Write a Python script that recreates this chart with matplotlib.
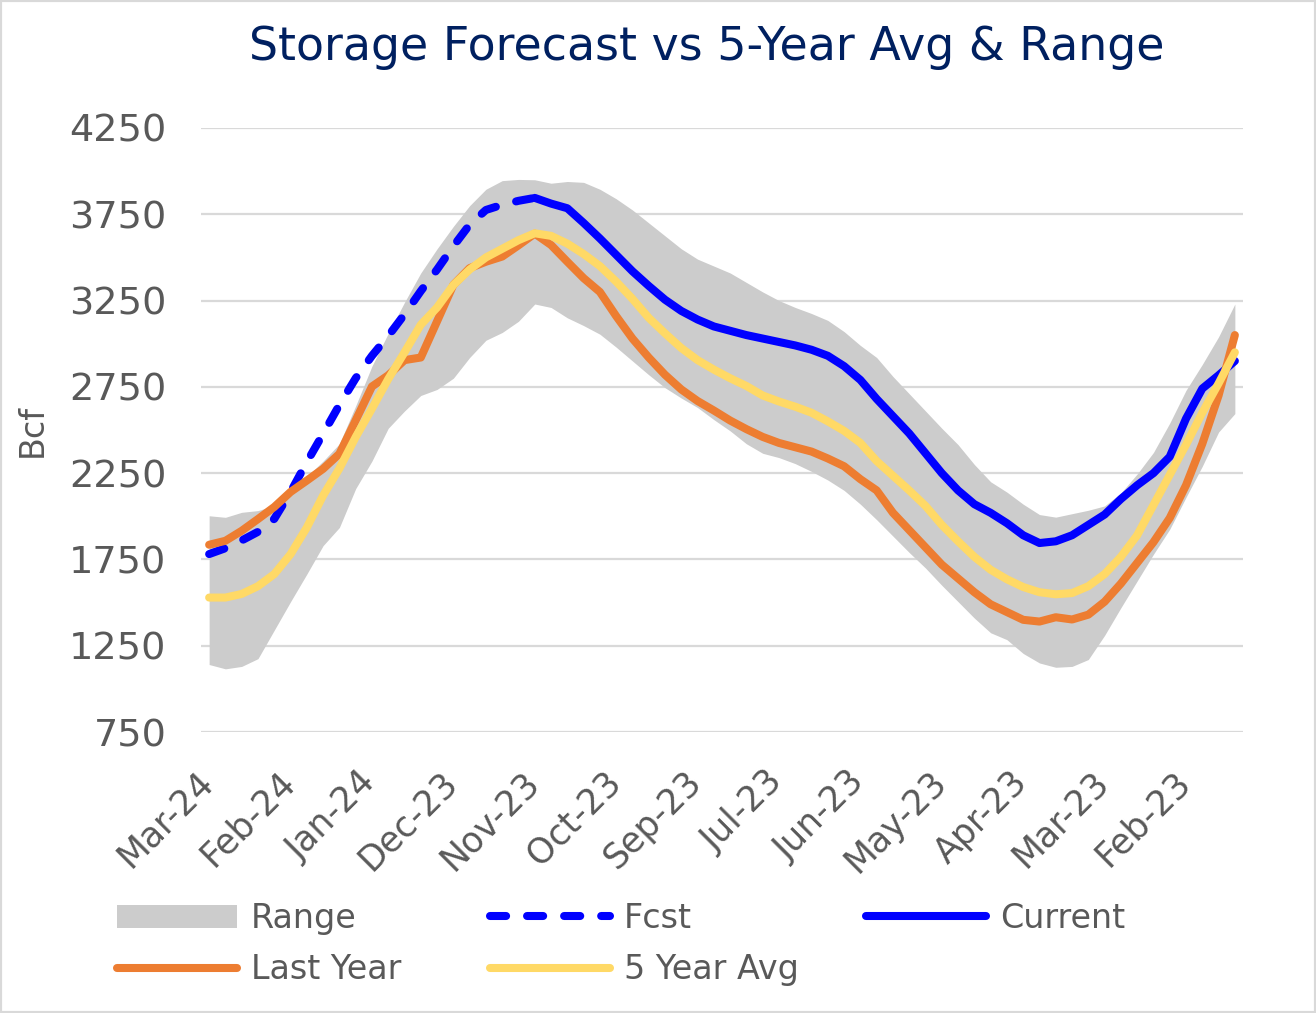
import numpy as np
import matplotlib
matplotlib.use("Agg")
import matplotlib.pyplot as plt
from matplotlib.patches import Rectangle
from matplotlib.transforms import ScaledTranslation

nan = np.nan

# ---- data (weekly categories, left to right) ----
tick_labels = ["Mar-24", "Feb-24", "Jan-24", "Dec-23", "Nov-23", "Oct-23", "Sep-23",
               "Jul-23", "Jun-23", "May-23", "Apr-23", "Mar-23", "Feb-23"]
tick_step = 5

range_upper = [2003, 1994, 2023, 2033, 2062, 2150, 2230, 2320, 2420, 2640,
               2870, 3060, 3240, 3410, 3550, 3680, 3800, 3895, 3945, 3952,
               3950, 3930, 3940, 3935, 3895, 3840, 3775, 3700, 3625, 3550,
               3490, 3450, 3410, 3355, 3300, 3250, 3210, 3175, 3135, 3070,
               2990, 2920, 2810, 2710, 2610, 2510, 2415, 2300, 2200, 2140,
               2070, 2010, 1995, 2015, 2035, 2060, 2135, 2245, 2370, 2540,
               2730, 2880, 3040, 3230]
range_lower = [1141, 1116, 1130, 1175, 1340, 1505, 1665, 1830, 1935, 2160,
               2320, 2510, 2610, 2700, 2735, 2800, 2920, 3020, 3065, 3130,
               3230, 3210, 3150, 3105, 3055, 2980, 2900, 2820, 2745, 2685,
               2630, 2560, 2495, 2420, 2365, 2340, 2305, 2260, 2210, 2150,
               2070, 1980, 1885, 1790, 1700, 1600, 1505, 1410, 1325, 1285,
               1205, 1150, 1125, 1130, 1170, 1310, 1470, 1625, 1780, 1925,
               2110, 2290, 2488, 2595]
fcst = [1781, 1815, 1860, 1910, 1985, 2140, 2314, 2478, 2645, 2800,
        2930, 3045, 3170, 3305, 3430, 3565, 3690, 3775, 3805, 3828,
        3845] + [nan] * 43
current = [nan] * 20 + [3845, 3812, 3785, 3700, 3610, 3515, 3420, 3335, 3255, 3190,
                        3140, 3100, 3075, 3050, 3030, 3010, 2990, 2965, 2930, 2870,
                        2790, 2680, 2580, 2480, 2365, 2250, 2150, 2070, 2020, 1960,
                        1890, 1845, 1855, 1890, 1950, 2010, 2100, 2180, 2250, 2345,
                        2566, 2740, 2817, 2900]
last_year = [1835, 1858, 1916, 1984, 2054, 2141, 2207, 2275, 2362, 2556,
             2752, 2817, 2905, 2920, 3130, 3341, 3438, 3475, 3505, 3570,
             3638, 3572, 3475, 3380, 3300, 3160, 3030, 2920, 2820, 2735,
             2668, 2613, 2555, 2505, 2460, 2425, 2400, 2375, 2335, 2290,
             2215, 2150, 2020, 1920, 1820, 1720, 1640, 1560, 1490, 1445,
             1400, 1390, 1415, 1402, 1430, 1505, 1610, 1730, 1850, 1990,
             2180, 2420, 2700, 3050]
five_year_avg = [1529, 1529, 1550, 1595, 1665, 1780, 1935, 2120, 2277, 2459,
                 2624, 2795, 2950, 3110, 3210, 3340, 3430, 3500, 3550, 3600,
                 3640, 3625, 3580, 3520, 3450, 3360, 3260, 3150, 3060, 2975,
                 2905, 2850, 2800, 2755, 2700, 2665, 2635, 2600, 2550, 2495,
                 2425, 2320, 2235, 2150, 2060, 1950, 1855, 1765, 1690, 1635,
                 1590, 1560, 1548, 1555, 1595, 1665, 1765, 1890, 2065, 2240,
                 2415, 2600, 2770, 2950]
y_ticks = [750, 1250, 1750, 2250, 2750, 3250, 3750, 4250]

# ---- styling ----
W, H = 1316, 1013
fig = plt.figure(figsize=(W / 100, H / 100), dpi=100)
ax = fig.add_axes([201 / W, 1 - 732 / H, 1042 / W, 604 / H])

txt_col = "#595959"
lw = 5.8
x = np.arange(len(range_upper))

rng = ax.fill_between(x, range_lower, range_upper, color="#CCCCCC", lw=0, zorder=1, label="Range")
l_fc, = ax.plot(x, fcst, color="#0000FF", lw=lw, dashes=(2.0, 2.6), dash_capstyle="round",
                zorder=3, label="Fcst")
l_cur, = ax.plot(x, current, color="#0000FF", lw=lw, solid_capstyle="round",
                 solid_joinstyle="round", zorder=3, label="Current")
l_ly, = ax.plot(x, last_year, color="#ED7D31", lw=lw, solid_capstyle="round",
                solid_joinstyle="round", zorder=4, label="Last Year")
l_av, = ax.plot(x, five_year_avg, color="#FFD966", lw=lw, solid_capstyle="round",
                solid_joinstyle="round", zorder=5, label="5 Year Avg")

ax.set_xlim(-0.5, len(x) - 0.5)
ax.set_ylim(750, 4250)
ax.grid(axis="y", color="#D9D9D9", lw=1.6, zorder=0)
ax.set_axisbelow(True)
for s in ax.spines.values():
    s.set_visible(False)
ax.tick_params(axis="both", length=0, labelcolor=txt_col)
ax.tick_params(axis="y", pad=25, labelsize=27.5)
ax.tick_params(axis="x", pad=23.5, labelsize=25)
ax.set_yticks(y_ticks)
ax.set_yticklabels([str(v) for v in y_ticks])
ax.set_xticks(x[::tick_step])
ax.set_xticklabels(tick_labels, rotation=45, ha="right", va="top", rotation_mode="anchor")
shift = ScaledTranslation(-0.13, 0.0, fig.dpi_scale_trans)
for lab in ax.get_xticklabels():
    lab.set_transform(lab.get_transform() + shift)

ax.set_ylabel("Bcf", fontsize=24, color=txt_col)
ax.yaxis.set_label_coords((49 - 201) / 1042, 0.5)

fig.text(707 / W, 1 - 47 / H, "Storage Forecast vs 5-Year Avg & Range", ha="center", va="center",
         fontsize=33, color="#002060")

leg_kw = dict(frameon=False, fontsize=24, labelcolor=txt_col, handlelength=3.6,
              handletextpad=0.42, labelspacing=0.55, borderpad=0, borderaxespad=0,
              loc="center left")
fig.legend([rng, l_ly], ["Range", "Last Year"], bbox_to_anchor=(117 / W, 1 - 944 / H), **leg_kw)
fig.legend([l_fc, l_av], ["Fcst", "5 Year Avg"], bbox_to_anchor=(490 / W, 1 - 944 / H), **leg_kw)
fig.legend([l_cur], ["Current"], bbox_to_anchor=(866 / W, 1 - 918 / H), **leg_kw)

fig.patches.append(Rectangle((0, 0), 1, 1, transform=fig.transFigure, fill=False,
                             edgecolor="#D9D9D9", lw=3))

fig.savefig("out.png", dpi=100)
